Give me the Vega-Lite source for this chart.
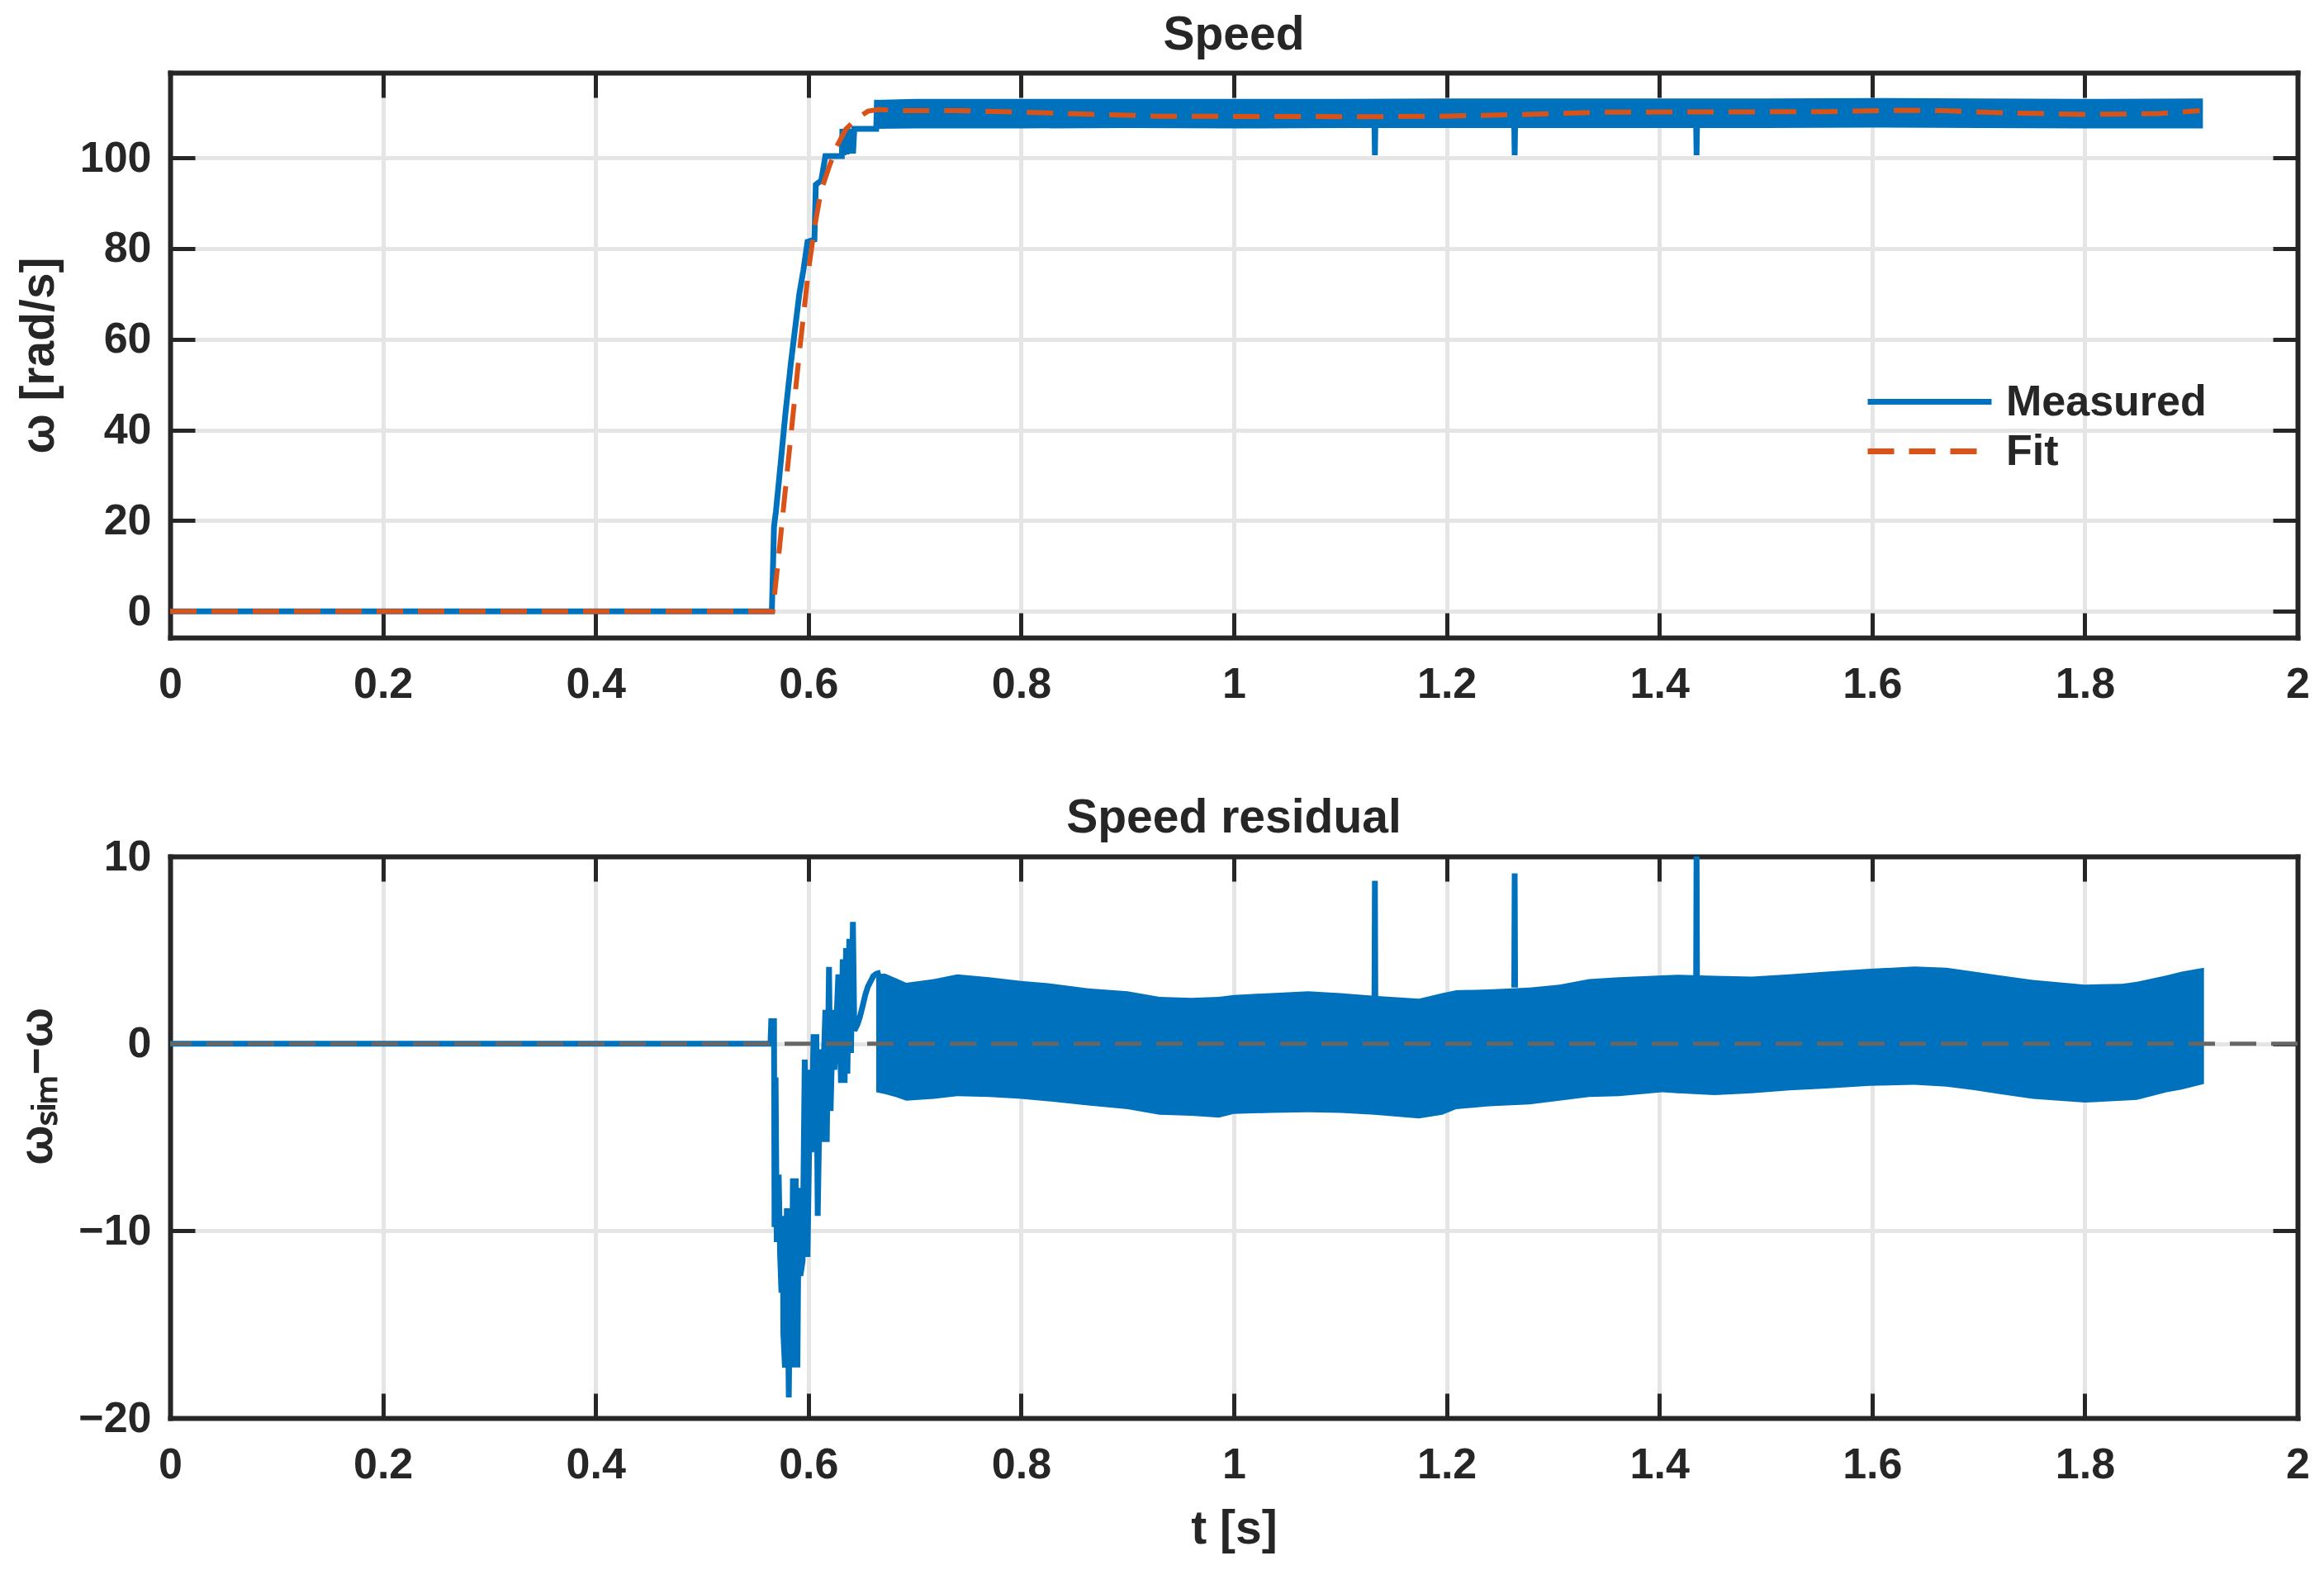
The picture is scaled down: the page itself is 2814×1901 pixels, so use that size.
{
  "$schema": "https://vega.github.io/schema/vega-lite/v6.json",
  "background": "white",
  "padding": {"left": 16, "top": 13, "right": 10, "bottom": 10},
  "spacing": 108,
  "datasets": {
    "topBand": [
      {"t": 0.6638, "lo": 106.4, "hi": 112.8},
      {"t": 0.7, "lo": 106.5, "hi": 113.0},
      {"t": 0.8, "lo": 106.5, "hi": 113.0},
      {"t": 0.9, "lo": 106.6, "hi": 113.0},
      {"t": 1.0, "lo": 106.5, "hi": 113.0},
      {"t": 1.1, "lo": 106.6, "hi": 113.0},
      {"t": 1.2, "lo": 106.6, "hi": 113.1},
      {"t": 1.3, "lo": 106.6, "hi": 113.1},
      {"t": 1.4, "lo": 106.6, "hi": 113.1},
      {"t": 1.5, "lo": 106.6, "hi": 113.1},
      {"t": 1.6, "lo": 106.7, "hi": 113.2},
      {"t": 1.7, "lo": 106.6, "hi": 113.1},
      {"t": 1.8, "lo": 106.5, "hi": 113.0},
      {"t": 1.911, "lo": 106.5, "hi": 113.1}
    ],
    "topMeas": [
      {"series": "Measured", "seg": "a", "t": 0, "v": 0},
      {"series": "Measured", "seg": "a", "t": 0.5657, "v": 0},
      {"series": "Measured", "seg": "a", "t": 0.5677, "v": 18.7},
      {"series": "Measured", "seg": "a", "t": 0.5695, "v": 22},
      {"series": "Measured", "seg": "a", "t": 0.5734, "v": 31.3},
      {"series": "Measured", "seg": "a", "t": 0.5786, "v": 44},
      {"series": "Measured", "seg": "a", "t": 0.5837, "v": 55},
      {"series": "Measured", "seg": "a", "t": 0.5876, "v": 62.5},
      {"series": "Measured", "seg": "a", "t": 0.5915, "v": 70},
      {"series": "Measured", "seg": "a", "t": 0.5953, "v": 75.2},
      {"series": "Measured", "seg": "a", "t": 0.5992, "v": 81.5},
      {"series": "Measured", "seg": "a", "t": 0.6057, "v": 82},
      {"series": "Measured", "seg": "a", "t": 0.607, "v": 94.1},
      {"series": "Measured", "seg": "a", "t": 0.6121, "v": 95},
      {"series": "Measured", "seg": "a", "t": 0.616, "v": 100.4},
      {"series": "Measured", "seg": "a", "t": 0.6315, "v": 100.4},
      {"series": "Measured", "seg": "a", "t": 0.632, "v": 106.4},
      {"series": "Measured", "seg": "a", "t": 0.633, "v": 100.6},
      {"series": "Measured", "seg": "a", "t": 0.6345, "v": 106.4},
      {"series": "Measured", "seg": "a", "t": 0.636, "v": 100.8},
      {"series": "Measured", "seg": "a", "t": 0.6375, "v": 106.4},
      {"series": "Measured", "seg": "a", "t": 0.639, "v": 101},
      {"series": "Measured", "seg": "a", "t": 0.6405, "v": 106.4},
      {"series": "Measured", "seg": "a", "t": 0.642, "v": 101},
      {"series": "Measured", "seg": "a", "t": 0.6432, "v": 106.4},
      {"series": "Measured", "seg": "a", "t": 0.6638, "v": 106.4},
      {"series": "Measured", "seg": "a", "t": 0.6645, "v": 112.8},
      {"series": "Measured", "seg": "s1", "t": 1.1322, "v": 107},
      {"series": "Measured", "seg": "s1", "t": 1.1326, "v": 100.6},
      {"series": "Measured", "seg": "s1", "t": 1.133, "v": 107},
      {"series": "Measured", "seg": "s2", "t": 1.2636, "v": 107},
      {"series": "Measured", "seg": "s2", "t": 1.264, "v": 100.6},
      {"series": "Measured", "seg": "s2", "t": 1.2644, "v": 107},
      {"series": "Measured", "seg": "s3", "t": 1.4346, "v": 107},
      {"series": "Measured", "seg": "s3", "t": 1.435, "v": 100.6},
      {"series": "Measured", "seg": "s3", "t": 1.4354, "v": 107}
    ],
    "topFit": [
      {"series": "Fit", "t": 0, "v": 0},
      {"series": "Fit", "t": 0.5665, "v": 0},
      {"series": "Fit", "t": 0.572, "v": 12},
      {"series": "Fit", "t": 0.578, "v": 26},
      {"series": "Fit", "t": 0.585, "v": 42},
      {"series": "Fit", "t": 0.592, "v": 58},
      {"series": "Fit", "t": 0.6, "v": 75},
      {"series": "Fit", "t": 0.606, "v": 85},
      {"series": "Fit", "t": 0.6121, "v": 92.9},
      {"series": "Fit", "t": 0.6199, "v": 98.3},
      {"series": "Fit", "t": 0.6264, "v": 102.4},
      {"series": "Fit", "t": 0.6354, "v": 106.4},
      {"series": "Fit", "t": 0.6457, "v": 108.7},
      {"series": "Fit", "t": 0.6561, "v": 110.3},
      {"series": "Fit", "t": 0.6664, "v": 110.7},
      {"series": "Fit", "t": 0.6819, "v": 110.4},
      {"series": "Fit", "t": 0.744, "v": 110.4},
      {"series": "Fit", "t": 0.8, "v": 110.1},
      {"series": "Fit", "t": 0.93, "v": 109.2},
      {"series": "Fit", "t": 1.132, "v": 109.1},
      {"series": "Fit", "t": 1.195, "v": 109.2},
      {"series": "Fit", "t": 1.278, "v": 109.6},
      {"series": "Fit", "t": 1.348, "v": 110.1},
      {"series": "Fit", "t": 1.557, "v": 110.2},
      {"series": "Fit", "t": 1.626, "v": 110.5},
      {"series": "Fit", "t": 1.668, "v": 110.4},
      {"series": "Fit", "t": 1.73, "v": 109.9},
      {"series": "Fit", "t": 1.8, "v": 109.6},
      {"series": "Fit", "t": 1.87, "v": 109.8},
      {"series": "Fit", "t": 1.908, "v": 110.4}
    ],
    "resBand": [
      {"t": 0.6638, "lo": -2.6, "hi": 3.7},
      {"t": 0.672, "lo": -2.7, "hi": 3.75},
      {"t": 0.682, "lo": -2.85, "hi": 3.5},
      {"t": 0.692, "lo": -3.05, "hi": 3.25},
      {"t": 0.718, "lo": -2.95, "hi": 3.45},
      {"t": 0.74, "lo": -2.8, "hi": 3.7},
      {"t": 0.77, "lo": -2.85, "hi": 3.55},
      {"t": 0.8, "lo": -2.95, "hi": 3.35},
      {"t": 0.83, "lo": -3.1, "hi": 3.2},
      {"t": 0.863, "lo": -3.3, "hi": 2.95},
      {"t": 0.9, "lo": -3.5, "hi": 2.8},
      {"t": 0.93, "lo": -3.8, "hi": 2.5},
      {"t": 0.96, "lo": -3.85, "hi": 2.45},
      {"t": 0.986, "lo": -3.95, "hi": 2.5},
      {"t": 1.0, "lo": -3.75, "hi": 2.6},
      {"t": 1.035, "lo": -3.7, "hi": 2.7},
      {"t": 1.07, "lo": -3.67, "hi": 2.8},
      {"t": 1.1, "lo": -3.7, "hi": 2.7},
      {"t": 1.132, "lo": -3.8, "hi": 2.55},
      {"t": 1.174, "lo": -4.0, "hi": 2.4},
      {"t": 1.196, "lo": -3.8, "hi": 2.7},
      {"t": 1.209, "lo": -3.5, "hi": 2.85},
      {"t": 1.24, "lo": -3.35, "hi": 2.9},
      {"t": 1.278, "lo": -3.25, "hi": 3.0},
      {"t": 1.306, "lo": -3.05, "hi": 3.15},
      {"t": 1.334, "lo": -2.85, "hi": 3.45},
      {"t": 1.362, "lo": -2.8, "hi": 3.55},
      {"t": 1.403, "lo": -2.6, "hi": 3.65},
      {"t": 1.417, "lo": -2.65, "hi": 3.68},
      {"t": 1.452, "lo": -2.75, "hi": 3.62},
      {"t": 1.487, "lo": -2.65, "hi": 3.58},
      {"t": 1.522, "lo": -2.5, "hi": 3.7},
      {"t": 1.557, "lo": -2.4, "hi": 3.85},
      {"t": 1.598, "lo": -2.25, "hi": 4.0},
      {"t": 1.64, "lo": -2.2, "hi": 4.12},
      {"t": 1.67, "lo": -2.3, "hi": 4.05},
      {"t": 1.696, "lo": -2.48, "hi": 3.85},
      {"t": 1.72, "lo": -2.7, "hi": 3.65},
      {"t": 1.751, "lo": -2.95, "hi": 3.4},
      {"t": 1.8, "lo": -3.15, "hi": 3.15},
      {"t": 1.835, "lo": -3.05, "hi": 3.2},
      {"t": 1.849, "lo": -3.0, "hi": 3.3},
      {"t": 1.877, "lo": -2.6, "hi": 3.65},
      {"t": 1.891, "lo": -2.45, "hi": 3.85},
      {"t": 1.912, "lo": -2.15, "hi": 4.05}
    ],
    "resLine": [
      {"seg": "a", "t": 0, "v": 0},
      {"seg": "a", "t": 0.5644, "v": 0},
      {"seg": "a", "t": 0.5651, "v": 1.2},
      {"seg": "a", "t": 0.5677, "v": 1.2},
      {"seg": "a", "t": 0.5682, "v": -9.8},
      {"seg": "a", "t": 0.5692, "v": -1.8},
      {"seg": "a", "t": 0.5703, "v": -10.6},
      {"seg": "a", "t": 0.5721, "v": -7.0},
      {"seg": "a", "t": 0.5734, "v": -11.2},
      {"seg": "a", "t": 0.5747, "v": -13.3},
      {"seg": "a", "t": 0.576, "v": -9.2},
      {"seg": "a", "t": 0.5765, "v": -15.5},
      {"seg": "a", "t": 0.578, "v": -17.3},
      {"seg": "a", "t": 0.5798, "v": -8.8},
      {"seg": "a", "t": 0.5816, "v": -18.9},
      {"seg": "a", "t": 0.5832, "v": -10.4},
      {"seg": "a", "t": 0.5842, "v": -15.9},
      {"seg": "a", "t": 0.5855, "v": -7.2},
      {"seg": "a", "t": 0.5868, "v": -17.3},
      {"seg": "a", "t": 0.5881, "v": -7.2},
      {"seg": "a", "t": 0.5897, "v": -17.3},
      {"seg": "a", "t": 0.591, "v": -7.7},
      {"seg": "a", "t": 0.5925, "v": -12.4},
      {"seg": "a", "t": 0.5946, "v": -11.6},
      {"seg": "a", "t": 0.5966, "v": -0.85},
      {"seg": "a", "t": 0.5992, "v": -11.4},
      {"seg": "a", "t": 0.6018, "v": -1.4},
      {"seg": "a", "t": 0.6028, "v": -5.8},
      {"seg": "a", "t": 0.6049, "v": 0.5},
      {"seg": "a", "t": 0.606, "v": -5.4},
      {"seg": "a", "t": 0.6075, "v": 0.5},
      {"seg": "a", "t": 0.6088, "v": -9.2},
      {"seg": "a", "t": 0.6114, "v": -0.3},
      {"seg": "a", "t": 0.6121, "v": -5.25},
      {"seg": "a", "t": 0.616, "v": 1.8},
      {"seg": "a", "t": 0.6173, "v": -5.25},
      {"seg": "a", "t": 0.6194, "v": 4.1},
      {"seg": "a", "t": 0.6209, "v": -3.6},
      {"seg": "a", "t": 0.6232, "v": 1.8},
      {"seg": "a", "t": 0.6245, "v": -1.4},
      {"seg": "a", "t": 0.6282, "v": 3.7},
      {"seg": "a", "t": 0.6307, "v": -2.1},
      {"seg": "a", "t": 0.6323, "v": 4.5},
      {"seg": "a", "t": 0.6341, "v": -2.1},
      {"seg": "a", "t": 0.6354, "v": 5.1},
      {"seg": "a", "t": 0.6367, "v": -1.6},
      {"seg": "a", "t": 0.6385, "v": 5.6},
      {"seg": "a", "t": 0.6401, "v": -0.5},
      {"seg": "a", "t": 0.6419, "v": 6.5},
      {"seg": "a", "t": 0.6432, "v": 0.7},
      {"seg": "a", "t": 0.646, "v": 1.0},
      {"seg": "a", "t": 0.6483, "v": 1.4},
      {"seg": "a", "t": 0.651, "v": 2.0},
      {"seg": "a", "t": 0.6535, "v": 2.6},
      {"seg": "a", "t": 0.656, "v": 3.05},
      {"seg": "a", "t": 0.6587, "v": 3.35},
      {"seg": "a", "t": 0.661, "v": 3.6},
      {"seg": "a", "t": 0.6638, "v": 3.73},
      {"seg": "a", "t": 0.668, "v": 3.8},
      {"seg": "s1", "t": 1.1322, "v": 2.5},
      {"seg": "s1", "t": 1.1326, "v": 8.7},
      {"seg": "s1", "t": 1.133, "v": 2.5},
      {"seg": "s2", "t": 1.2636, "v": 3.0},
      {"seg": "s2", "t": 1.264, "v": 9.1},
      {"seg": "s2", "t": 1.2644, "v": 3.0},
      {"seg": "s3", "t": 1.4346, "v": 3.6},
      {"seg": "s3", "t": 1.435, "v": 11},
      {"seg": "s3", "t": 1.4354, "v": 3.6}
    ],
    "zeroRef": [
      {"v": 0}
    ]
  },
  "vconcat": [
    {
      "width": 2576,
      "height": 684,
      "title": {"text": "Speed", "frame": "group"},
      "resolve": {"axis": {"x": "independent", "y": "independent"}},
      "layer": [
        {
          "data": {"name": "topBand"},
          "mark": {"type": "area", "color": "#0072BD", "opacity": 1, "clip": true},
          "encoding": {
            "x": {"field": "t", "type": "quantitative", "scale": {"domain": [0, 2], "nice": false, "zero": false},
                  "axis": {"orient": "bottom", "values": [0, 0.2, 0.4, 0.6, 0.8, 1, 1.2, 1.4, 1.6, 1.8, 2], "format": "~g", "grid": true, "title": null}},
            "y": {"field": "lo", "type": "quantitative", "scale": {"domain": [-5.8, 118.8], "nice": false, "zero": false},
                  "axis": {"orient": "left", "values": [0, 20, 40, 60, 80, 100], "format": "d", "grid": true, "title": "ω [rad/s]"}},
            "y2": {"field": "hi"}
          }
        },
        {
          "data": {"name": "topMeas"},
          "mark": {"type": "line", "strokeWidth": 7, "clip": true},
          "encoding": {
            "x": {"field": "t", "type": "quantitative", "scale": {"domain": [0, 2], "nice": false, "zero": false},
                  "axis": {"orient": "top", "values": [0, 0.2, 0.4, 0.6, 0.8, 1, 1.2, 1.4, 1.6, 1.8, 2], "labels": false, "grid": false, "title": null}},
            "y": {"field": "v", "type": "quantitative", "scale": {"domain": [-5.8, 118.8], "nice": false, "zero": false},
                  "axis": {"orient": "right", "values": [0, 20, 40, 60, 80, 100], "labels": false, "grid": false, "title": null}},
            "detail": {"field": "seg"},
            "color": {"field": "series", "type": "nominal", "scale": {"domain": ["Measured", "Fit"], "range": ["#0072BD", "#D95319"]},
                      "legend": {"title": null, "orient": "none", "legendX": 2102, "legendY": 370, "symbolType": "M-3,0H3", "symbolSize": 2500, "symbolStrokeWidth": 7, "labelFontSize": 52, "labelFont": "Liberation Sans", "labelFontWeight": "bold", "labelColor": "#262626", "labelOffset": 64, "labelLimit": 0, "rowPadding": 5, "padding": 0}},
            "strokeDash": {"field": "series", "type": "nominal", "scale": {"domain": ["Measured", "Fit"], "range": [[1, 0], [32, 18]]},
                      "legend": {"title": null, "orient": "none", "legendX": 2102, "legendY": 370, "symbolType": "M-3,0H3", "symbolSize": 2500, "symbolStrokeWidth": 7, "labelFontSize": 52, "labelFont": "Liberation Sans", "labelFontWeight": "bold", "labelColor": "#262626", "labelOffset": 64, "labelLimit": 0, "rowPadding": 5, "padding": 0}}
          }
        },
        {
          "data": {"name": "topFit"},
          "mark": {"type": "line", "strokeWidth": 6, "clip": true},
          "encoding": {
            "x": {"field": "t", "type": "quantitative", "scale": {"domain": [0, 2], "nice": false, "zero": false}, "axis": null},
            "y": {"field": "v", "type": "quantitative", "scale": {"domain": [-5.8, 118.8], "nice": false, "zero": false}, "axis": null},
            "color": {"field": "series", "type": "nominal", "scale": {"domain": ["Measured", "Fit"], "range": ["#0072BD", "#D95319"]}},
            "strokeDash": {"field": "series", "type": "nominal", "scale": {"domain": ["Measured", "Fit"], "range": [[1, 0], [32, 18]]}}
          }
        }
      ]
    },
    {
      "width": 2576,
      "height": 680,
      "title": {"text": "Speed residual", "frame": "group", "offset": -9},
      "resolve": {"axis": {"x": "independent", "y": "independent"}},
      "layer": [
        {
          "data": {"name": "resBand"},
          "mark": {"type": "area", "color": "#0072BD", "opacity": 1, "clip": true},
          "encoding": {
            "x": {"field": "t", "type": "quantitative", "scale": {"domain": [0, 2], "nice": false, "zero": false},
                  "axis": {"orient": "bottom", "values": [0, 0.2, 0.4, 0.6, 0.8, 1, 1.2, 1.4, 1.6, 1.8, 2], "format": "~g", "grid": true, "title": "t [s]"}},
            "y": {"field": "lo", "type": "quantitative", "scale": {"domain": [-20, 10], "nice": false, "zero": false},
                  "axis": {"orient": "left", "values": [-20, -10, 0, 10], "format": "d", "grid": true, "title": "ωₛᵢₘ−ω", "titleY": 278}},
            "y2": {"field": "hi"}
          }
        },
        {
          "data": {"name": "resLine"},
          "mark": {"type": "line", "strokeWidth": 7, "color": "#0072BD", "clip": true},
          "encoding": {
            "x": {"field": "t", "type": "quantitative", "scale": {"domain": [0, 2], "nice": false, "zero": false},
                  "axis": {"orient": "top", "values": [0, 0.2, 0.4, 0.6, 0.8, 1, 1.2, 1.4, 1.6, 1.8, 2], "labels": false, "grid": false, "title": null}},
            "y": {"field": "v", "type": "quantitative", "scale": {"domain": [-20, 10], "nice": false, "zero": false},
                  "axis": {"orient": "right", "values": [-20, -10, 0, 10], "labels": false, "grid": false, "title": null}},
            "detail": {"field": "seg"}
          }
        },
        {
          "data": {"name": "zeroRef"},
          "mark": {"type": "rule", "color": "#666666", "strokeWidth": 5, "strokeDash": [32, 18]},
          "encoding": {
            "y": {"field": "v", "type": "quantitative", "scale": {"domain": [-20, 10], "nice": false, "zero": false}, "axis": null}
          }
        }
      ]
    }
  ],
  "config": {
    "font": "Liberation Sans",
    "view": {"stroke": null},
    "axis": {
      "labelFont": "Liberation Sans", "labelFontSize": 52, "labelFontWeight": "bold", "labelColor": "#262626",
      "titleFont": "Liberation Sans", "titleFontSize": 57, "titleFontWeight": "bold", "titleColor": "#262626",
      "gridColor": "#e5e5e5", "gridWidth": 5, "gridOpacity": 1,
      "tickColor": "#262626", "tickWidth": 5, "tickSize": -30,
      "domain": true, "domainColor": "#262626", "domainWidth": 6, "domainCap": "square",
      "labelFlush": false, "labelOverlap": false, "labelBound": false, "zindex": 1
    },
    "axisX": {"labelPadding": 61, "titlePadding": 24},
    "axisY": {"labelPadding": 53, "titlePadding": 20},
    "title": {"font": "Liberation Sans", "fontSize": 57, "fontWeight": "bold", "color": "#262626", "offset": 14, "anchor": "middle"}
  }
}
